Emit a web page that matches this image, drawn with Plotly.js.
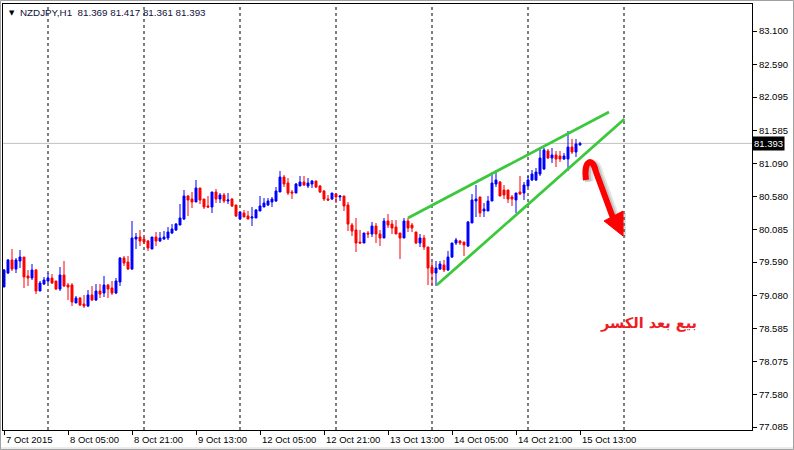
<!DOCTYPE html>
<html><head><meta charset="utf-8">
<script src="https://cdn.plot.ly/plotly-3.0.1.min.js"></script>
<style>html,body{margin:0;padding:0;background:#fff;}#chart{width:794px;height:450px;}</style>
</head><body><div id="chart"></div>
<script>
const symbol = "NZDJPY,H1";
const opens = [79.212,79.424,79.622,79.485,79.607,79.667,79.379,79.348,79.470,79.151,
79.257,79.303,79.348,79.303,79.181,79.394,79.242,79.242,78.969,79.044,
78.953,78.923,79.090,79.014,79.151,79.120,79.242,79.196,79.120,79.288,
79.652,79.591,79.485,79.941,79.971,79.941,79.910,79.789,79.971,79.910,
79.941,79.956,80.032,80.078,80.153,80.244,80.594,80.548,80.503,80.715,
80.548,80.442,80.427,80.655,80.548,80.609,80.518,80.548,80.457,80.244,
80.336,80.290,80.260,80.260,80.366,80.427,80.457,80.503,80.518,80.655,
80.882,80.791,80.655,80.639,80.746,80.806,80.746,80.776,80.822,80.746,
80.670,80.548,80.548,80.624,80.579,80.594,80.457,80.153,80.078,79.895,
79.880,80.032,80.017,80.138,80.017,79.956,80.214,80.168,80.123,80.032,
79.956,80.214,80.153,80.047,79.880,79.956,79.819,79.515,79.424,79.485,
79.546,79.470,79.667,79.880,79.910,79.895,79.834,80.184,80.518,80.579,
80.366,80.366,80.518,80.776,80.806,80.685,80.685,80.579,80.533,80.655,
80.639,80.746,80.837,80.837,80.928,81.004,81.277,81.171,81.217,81.201,
81.156,81.156,81.338,81.262,81.369];
const highs = [79.485,79.637,79.789,79.652,79.774,79.667,79.470,79.561,79.485,79.303,
79.364,79.424,79.409,79.303,79.515,79.607,79.272,79.272,79.075,79.060,
79.090,79.166,79.227,79.257,79.257,79.379,79.257,79.303,79.348,79.667,
79.683,79.683,80.214,80.032,80.078,79.971,79.926,79.971,80.047,80.047,
80.062,80.123,80.168,80.184,80.472,80.685,80.609,80.655,80.837,80.715,
80.548,80.594,80.655,80.700,80.639,80.639,80.639,80.563,80.457,80.351,
80.381,80.366,80.427,80.396,80.594,80.563,80.563,80.579,80.730,80.974,
80.913,80.867,80.685,80.791,80.898,80.898,80.867,80.837,80.822,80.761,
80.685,80.609,80.639,80.639,80.609,80.594,80.503,80.184,80.260,80.078,
80.032,80.062,80.199,80.184,80.078,80.260,80.320,80.229,80.229,80.032,
80.260,80.260,80.184,80.047,80.017,80.002,79.819,79.591,79.607,79.607,
79.622,79.759,79.880,79.956,79.926,79.895,80.214,80.624,80.761,80.579,
80.487,80.594,80.958,80.989,80.822,80.761,80.685,80.609,80.639,80.898,
80.806,80.898,80.989,81.019,81.338,81.323,81.308,81.323,81.277,81.277,
81.247,81.581,81.460,81.460,81.417];
const lows = [79.212,79.409,79.455,79.424,79.500,79.196,79.227,79.318,79.105,79.151,
79.242,79.272,79.257,79.166,79.151,79.212,79.014,78.923,78.969,78.923,
78.893,78.908,78.999,78.999,79.044,79.060,79.044,79.090,79.105,79.227,
79.531,79.470,79.470,79.789,79.834,79.865,79.759,79.789,79.834,79.895,
79.926,79.926,80.017,80.062,80.153,80.229,80.290,80.411,80.503,80.472,
80.396,80.411,80.336,80.487,80.487,80.487,80.472,80.427,80.275,80.244,
80.275,80.244,80.138,80.260,80.366,80.427,80.442,80.427,80.503,80.655,
80.730,80.609,80.548,80.639,80.746,80.746,80.715,80.715,80.715,80.639,
80.518,80.518,80.533,80.487,80.518,80.366,80.062,79.986,79.743,79.865,
79.880,79.956,79.971,79.880,79.834,79.956,80.108,80.017,80.017,79.637,
79.956,80.047,80.047,79.865,79.819,79.774,79.242,79.242,79.227,79.470,
79.439,79.455,79.652,79.850,79.850,79.683,79.819,80.184,80.275,80.275,
80.275,80.366,80.518,80.730,80.594,80.548,80.487,80.442,80.336,80.609,
80.533,80.730,80.822,80.822,80.898,80.989,81.156,81.095,81.034,81.110,
81.141,80.974,81.232,81.186,81.361];
const closes = [79.470,79.622,79.485,79.622,79.667,79.364,79.348,79.470,79.151,79.272,
79.318,79.348,79.272,79.181,79.394,79.227,79.212,78.984,79.044,78.938,
78.923,79.090,79.014,79.151,79.105,79.242,79.181,79.120,79.303,79.652,
79.576,79.485,79.956,79.971,79.910,79.895,79.804,79.971,79.910,79.956,
79.971,80.047,80.093,80.168,80.260,80.594,80.533,80.503,80.715,80.533,
80.427,80.427,80.655,80.548,80.609,80.518,80.533,80.442,80.290,80.351,
80.275,80.244,80.275,80.381,80.442,80.487,80.518,80.548,80.670,80.882,
80.776,80.639,80.639,80.776,80.806,80.761,80.791,80.822,80.730,80.655,
80.548,80.533,80.639,80.579,80.594,80.442,80.168,80.062,79.880,79.880,
80.032,80.017,80.138,80.017,79.956,80.214,80.153,80.108,80.017,79.956,
80.214,80.108,80.108,79.880,79.956,79.819,79.500,79.424,79.500,79.561,
79.470,79.667,79.880,79.926,79.880,79.850,80.199,80.533,80.548,80.336,
80.396,80.518,80.791,80.837,80.594,80.609,80.548,80.548,80.639,80.624,
80.761,80.837,80.928,80.958,81.171,81.293,81.171,81.217,81.156,81.156,
81.201,81.338,81.262,81.384,81.393];

const tickIdx = [0,16,32,48,64,80,96,112,128,144];
const tickText = ["7 Oct 2015","8 Oct 05:00","8 Oct 21:00","9 Oct 13:00","12 Oct 05:00","12 Oct 21:00","13 Oct 13:00","14 Oct 05:00","14 Oct 21:00","15 Oct 13:00"];
const separatorIdx = [11,35,59,83,107,131,155];
const priceTicks = [83.100,82.590,82.095,81.585,81.090,80.580,80.085,79.590,79.080,78.585,78.075,77.580,77.085];

const upperTrendX = [101,151.25];
const upperTrendY = [80.260,81.870];
const lowerTrendX = [108.2,155.1];
const lowerTrendY = [79.242,81.763];

const arrowX = [145.5,144.8,147.2,148,152.25];
const arrowY = [80.837,81.140,81.200,80.958,80.260];
const headX = [154.75,150.0,154.75];
const headY = [79.986,80.215,80.365];

const noteText = "بيع بعد الكسر";
const noteX = 161;
const noteY = 78.665;

const barIdx = opens.map((_, k) => k);
const n = closes.length - 1;
const lastPrice = closes[n];
const fmt = v => v.toFixed(3);

const font = 'Liberation Sans, Arial, sans-serif';

const traces = [
  {type:'candlestick', x:barIdx, open:opens, high:highs, low:lows, close:closes,
   increasing:{line:{color:'#0000FF', width:1}, fillcolor:'#0000FF'},
   decreasing:{line:{color:'#FF0000', width:1}, fillcolor:'#FF0000'},
   whiskerwidth:0, hoverinfo:'skip', showlegend:false},
  {type:'scatter', mode:'lines', x:upperTrendX, y:upperTrendY, line:{color:'#3CC83C', width:2.8}, hoverinfo:'skip', showlegend:false},
  {type:'scatter', mode:'lines', x:lowerTrendX, y:lowerTrendY, line:{color:'#3CC83C', width:2.8}, hoverinfo:'skip', showlegend:false}
];

function arrowPath(dx, dy){
  const p = arrowX.map((x,k)=>[x+dx, arrowY[k]+dy]);
  return `M ${p[0][0]},${p[0][1]} C ${p[1][0]},${p[1][1]} ${p[2][0]},${p[2][1]} ${p[3][0]},${p[3][1]} L ${p[4][0]},${p[4][1]}`;
}
function headPath(dx, dy){
  const p = headX.map((x,k)=>[x+dx, headY[k]+dy]);
  return `M ${p[0][0]},${p[0][1]} L ${p[1][0]},${p[1][1]} L ${p[2][0]},${p[2][1]} Z`;
}

const shapes = [];
separatorIdx.forEach(s => shapes.push({type:'line', xref:'x', yref:'paper', x0:s, x1:s, y0:0, y1:1,
  line:{color:'#000', width:1, dash:'3px,3px'}, layer:'below'}));
shapes.push({type:'line', xref:'paper', yref:'y', x0:0, x1:1, y0:lastPrice, y1:lastPrice,
  line:{color:'#C0C0C0', width:1}, layer:'below'});
// arrow soft shadow
shapes.push({type:'path', xref:'x', yref:'y', path:arrowPath(0.8,-0.03), line:{color:'rgba(0,0,0,0.10)', width:9}});
shapes.push({type:'path', xref:'x', yref:'y', path:arrowPath(0.6,-0.02), line:{color:'rgba(0,0,0,0.14)', width:6}});
shapes.push({type:'path', xref:'x', yref:'y', path:headPath(0.7,-0.03), fillcolor:'rgba(0,0,0,0.15)', line:{color:'rgba(0,0,0,0)', width:0}});
shapes.push({type:'path', xref:'x', yref:'y', path:arrowPath(0,0), line:{color:'#FF0000', width:6}});
shapes.push({type:'path', xref:'x', yref:'y', path:headPath(0,0), fillcolor:'#FF0000', line:{color:'#FF0000', width:1}});
// window frame
shapes.push({type:'rect', xref:'paper', yref:'paper', x0:-0.004, x1:1.0561, y0:-0.0493, y1:-0.0399, fillcolor:'#ECECEC', line:{width:0}});
shapes.push({type:'rect', xref:'paper', yref:'paper', x0:-0.00334, x1:1.05541, y0:-0.04577, y1:1.00822, line:{color:'#A0A0A0', width:1}});

const annotations = tickIdx.map((t,k)=>({xref:'x', yref:'paper', x:t, y:0, xanchor:'left', yanchor:'top', yshift:-2,
  text:tickText[k], showarrow:false, font:{family:font, size:9.5, color:'#000'}}));
annotations.push({xref:'paper', yref:'paper', x:0.0053, y:0.979, xanchor:'left', yanchor:'middle', text:'▼', showarrow:false,
  font:{family:'DejaVu Sans', size:7, color:'#000'}});
annotations.push({xref:'paper', yref:'paper', x:0.0200, y:0.979, xanchor:'left', yanchor:'middle',
  text:`${symbol}  ${fmt(opens[n])} ${fmt(highs[n])} ${fmt(lows[n])} ${fmt(closes[n])}`, showarrow:false,
  font:{family:font, size:9.8, color:'#10103a'}});
annotations.push({xref:'paper', yref:'y', x:1, y:lastPrice, xanchor:'left', yanchor:'middle', xshift:0,
  text:fmt(lastPrice), showarrow:false, bgcolor:'#000', borderpad:1, font:{family:font, size:9.5, color:'#fff'}});
annotations.push({xref:'x', yref:'y', x:noteX, y:noteY, xanchor:'center', yanchor:'middle', text:'<b>'+noteText+'</b>',
  showarrow:false, font:{family:'DejaVu Sans', size:14.5, color:'#EE1C25'}});

const layout = {
  width:794, height:450, margin:{l:3, r:42, t:4, b:20},
  paper_bgcolor:'#fff', plot_bgcolor:'#fff', showlegend:false,
  xaxis:{type:'linear', range:[-0.25,187], showgrid:false, zeroline:false, showline:true, linecolor:'#000', linewidth:1,
    mirror:true, ticks:'outside', ticklen:4, tickcolor:'#000', tickvals:tickIdx, showticklabels:false,
    rangeslider:{visible:false}, fixedrange:true},
  yaxis:{side:'right', range:[77.040,83.510], showgrid:false, zeroline:false, showline:true, linecolor:'#000', linewidth:1,
    mirror:true, ticks:'outside', ticklen:4, tickcolor:'#000', tickvals:priceTicks, ticktext:priceTicks.map(fmt),
    tickfont:{family:font, size:9.5, color:'#000'}, fixedrange:true},
  shapes:shapes, annotations:annotations
};

Plotly.newPlot('chart', traces, layout, {staticPlot:true, displayModeBar:false});
</script>
</body></html>
